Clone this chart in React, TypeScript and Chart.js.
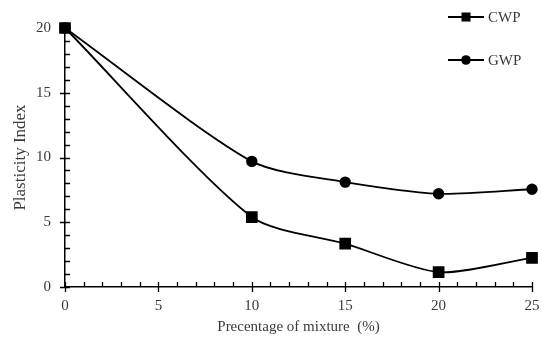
import React, { useEffect, useRef } from "react";
import { Chart, registerables } from "chart.js";

Chart.register(...registerables);

const xValues = [0, 10, 15, 20, 25];
const cwpValues = [20, 5.4, 3.35, 1.15, 2.25];
const gwpValues = [20, 9.7, 8.1, 7.2, 7.55];
const seriesNames = ["CWP", "GWP"];
const xTickValues = [0, 5, 10, 15, 20, 25];
const yTickValues = [0, 5, 10, 15, 20];
const xTitle = "Precentage of mixture  (%)";
const yTitle = "Plasticity Index";

const FONT = "'Liberation Serif', 'Times New Roman', serif";
const TEXT = "#3a3a3a";

const ticksPlugin = {
  id: "minorTicks",
  afterDraw(chart: any) {
    const { ctx, chartArea, scales } = chart;
    const xs = scales.x;
    const ys = scales.y;
    ctx.save();
    ctx.strokeStyle = "#000";
    ctx.lineWidth = 1.3;
    ctx.beginPath();
    for (let v = xs.min; v <= xs.max; v += 1) {
      const px = Math.round(xs.getPixelForValue(v)) + 0.5;
      const major = v % 5 === 0;
      ctx.moveTo(px, chartArea.bottom + (major ? 5 : 0));
      ctx.lineTo(px, chartArea.bottom - 5);
    }
    for (let v = ys.min; v <= ys.max; v += 1) {
      const py = Math.round(ys.getPixelForValue(v)) + 0.5;
      const major = v % 5 === 0;
      ctx.moveTo(chartArea.left - (major ? 5 : 0), py);
      ctx.lineTo(chartArea.left + 5, py);
    }
    ctx.stroke();

    // legend
    const items = [
      { name: seriesNames[0], y: 17, style: "rect" },
      { name: seriesNames[1], y: 60, style: "circle" },
    ];
    ctx.font = `15px ${FONT}`;
    ctx.textBaseline = "middle";
    ctx.textAlign = "left";
    for (const it of items) {
      ctx.strokeStyle = "#000";
      ctx.lineWidth = 1.8;
      ctx.beginPath();
      ctx.moveTo(448, it.y);
      ctx.lineTo(484, it.y);
      ctx.stroke();
      ctx.fillStyle = "#000";
      if (it.style === "rect") {
        ctx.fillRect(466 - 4.5, it.y - 4.5, 9, 9);
      } else {
        ctx.beginPath();
        ctx.arc(466, it.y, 4.8, 0, Math.PI * 2);
        ctx.fill();
      }
      ctx.fillStyle = TEXT;
      ctx.fillText(it.name, 488, it.y + 1);
    }
    ctx.restore();
  },
};

export default function App() {
  const ref = useRef<HTMLCanvasElement>(null);
  useEffect(() => {
    if (!ref.current) return;
    const toPts = (arr: number[]) => xValues.map((x, i) => ({ x, y: arr[i] }));
    const chart = new Chart(ref.current, {
      type: "line",
      data: {
        datasets: [
          {
            label: seriesNames[0],
            data: toPts(cwpValues),
            borderColor: "#000",
            backgroundColor: "#000",
            borderWidth: 1.8,
            pointStyle: "rect",
            pointRadius: 7,
            pointHoverRadius: 7,
            tension: 0.25,
            clip: false as any,
          },
          {
            label: seriesNames[1],
            data: toPts(gwpValues),
            borderColor: "#000",
            backgroundColor: "#000",
            borderWidth: 1.8,
            pointStyle: "circle",
            pointRadius: 4.8,
            pointHoverRadius: 4.8,
            tension: 0.25,
            clip: false as any,
          },
        ],
      },
      options: {
        animation: false,
        responsive: false,
        maintainAspectRatio: false,
        layout: { padding: { top: 28, right: 10, left: 0, bottom: 0 } },
        plugins: { legend: { display: false }, tooltip: { enabled: false } },
        scales: {
          x: {
            type: "linear",
            min: 0,
            max: 25,
            afterFit: (s: any) => {
              s.height = 54;
              s.paddingLeft = 0;
              s.paddingRight = 0;
            },
            afterBuildTicks: (s: any) => {
              s.ticks = xTickValues.map((v) => ({ value: v }));
            },
            grid: { display: false, drawTicks: false },
            border: { display: true, color: "#000", width: 1.5 },
            ticks: {
              padding: 10,
              color: TEXT,
              font: { family: FONT, size: 15 },
              maxRotation: 0,
            },
            title: {
              display: true,
              text: xTitle,
              color: TEXT,
              font: { family: FONT, size: 15 },
              padding: { top: 0, bottom: 5 },
            },
          },
          y: {
            type: "linear",
            min: 0,
            max: 20,
            afterFit: (s: any) => {
              s.width = 65;
              s.paddingTop = 0;
              s.paddingBottom = 0;
            },
            afterBuildTicks: (s: any) => {
              s.ticks = yTickValues.map((v) => ({ value: v }));
            },
            grid: { display: false, drawTicks: false },
            border: { display: true, color: "#000", width: 1.5 },
            ticks: {
              padding: 14,
              color: TEXT,
              font: { family: FONT, size: 15 },
            },
            title: {
              display: true,
              text: yTitle,
              color: TEXT,
              font: { family: FONT, size: 17 },
              padding: { top: 10, bottom: 0 },
            },
          },
        },
      },
      plugins: [ticksPlugin],
    });
    return () => chart.destroy();
  }, []);
  return (
    <div style={{ position: "fixed", left: 0, top: 0, width: 542, height: 341, background: "#fff" }}>
      <canvas ref={ref} width={542} height={341} />
    </div>
  );
}
